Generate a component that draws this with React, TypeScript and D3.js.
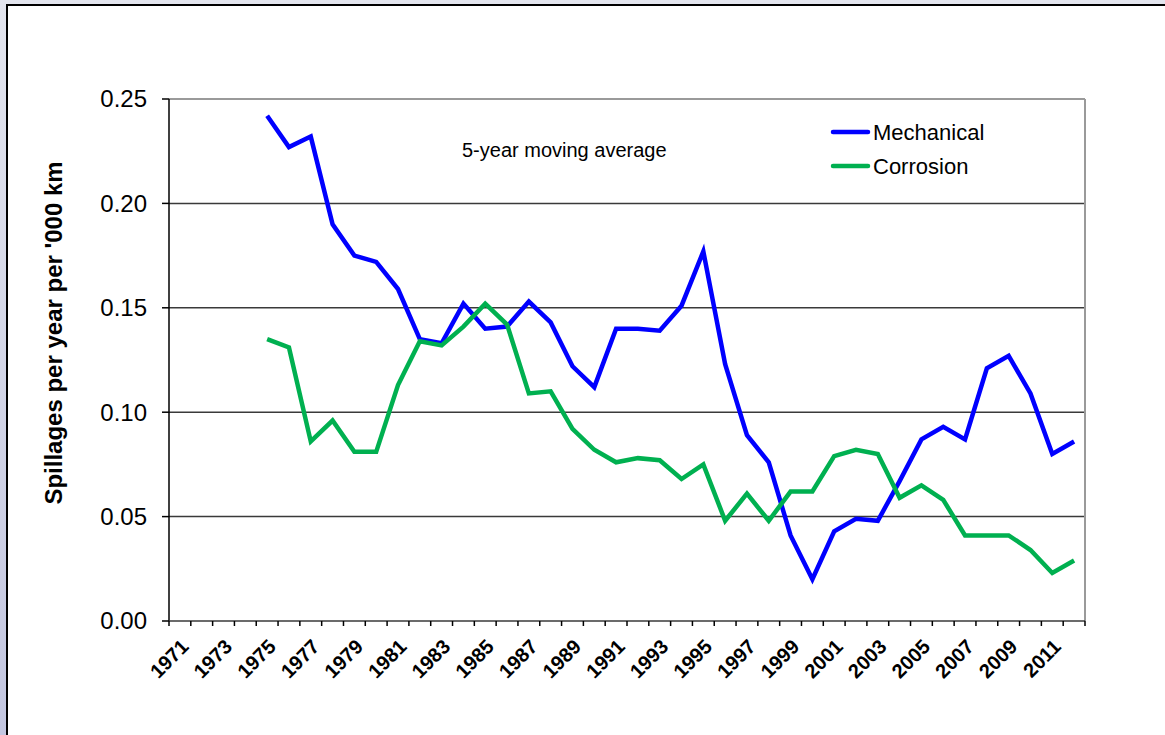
import React from 'react';
import * as d3 from 'd3';

const years = d3.range(1971, 2013);
const dataYears = d3.range(1975, 2013);

const mechanical = [
  0.242, 0.227, 0.232, 0.190, 0.175, 0.172, 0.159, 0.135, 0.133, 0.152,
  0.140, 0.141, 0.153, 0.143, 0.122, 0.112, 0.140, 0.140, 0.139, 0.151,
  0.177, 0.123, 0.089, 0.076, 0.041, 0.020, 0.043, 0.049, 0.048, 0.067,
  0.087, 0.093, 0.087, 0.121, 0.127, 0.109, 0.080, 0.086,
];

const corrosion = [
  0.135, 0.131, 0.086, 0.096, 0.081, 0.081, 0.113, 0.134, 0.132, 0.141,
  0.152, 0.142, 0.109, 0.110, 0.092, 0.082, 0.076, 0.078, 0.077, 0.068,
  0.075, 0.048, 0.061, 0.048, 0.062, 0.062, 0.079, 0.082, 0.080, 0.059,
  0.065, 0.058, 0.041, 0.041, 0.041, 0.034, 0.023, 0.029,
];

const yTicks = [0, 0.05, 0.1, 0.15, 0.2, 0.25];

const series = [
  { name: 'Mechanical', values: mechanical, color: '#0000ff' },
  { name: 'Corrosion', values: corrosion, color: '#00b050' },
];

const W = 1165;
const H = 735;
const left = 169;
const right = 1085;
const top = 99;
const bottom = 621;

export default function App() {
  const x = d3.scaleBand<number>().domain(years).range([left, right]).padding(0);
  const y = d3.scaleLinear().domain([0, 0.25]).range([bottom, top]);
  const cx = (yr: number) => (x(yr) ?? 0) + x.bandwidth() / 2;

  const line = d3.line<number>()
    .x((_, i) => cx(dataYears[i]))
    .y((d) => y(d));

  const boundaries = years.map((yr) => x(yr) ?? 0).concat([right]);
  const font = 'Liberation Sans, Arial, sans-serif';

  return (
    <svg width={W} height={H} style={{ position: 'absolute', left: 0, top: 0 }}>
      <defs>
        <linearGradient id="bg" x1="0" y1="0" x2="0" y2="1">
          <stop offset="0" stopColor="#e3e5ee" />
          <stop offset="1" stopColor="#c3c6e0" />
        </linearGradient>
      </defs>
      <rect x={0} y={0} width={W} height={H} fill="url(#bg)" />
      <rect x={7} y={5} width={W + 10} height={H + 10} fill="#fff" stroke="#000" strokeWidth={2} />

      {/* gridlines */}
      {yTicks.filter((t) => t > 0 && t < 0.25).map((t) => (
        <line key={t} x1={left} x2={right} y1={y(t)} y2={y(t)} stroke="#3a3a3a" strokeWidth={1.5} />
      ))}
      {/* plot area border top/right */}
      <line x1={left} x2={right} y1={top} y2={top} stroke="#9a9a9a" strokeWidth={2} />
      <line x1={right} x2={right} y1={top} y2={bottom} stroke="#9a9a9a" strokeWidth={2} />

      {/* y axis */}
      <line x1={left} x2={left} y1={top} y2={bottom} stroke="#000" strokeWidth={1.5} />
      {yTicks.map((t) => (
        <g key={t}>
          <line x1={left - 7} x2={left} y1={y(t)} y2={y(t)} stroke="#000" strokeWidth={1.5} />
          <text x={147} y={y(t)} dy="0.35em" textAnchor="end" fontFamily={font} fontSize={24} fill="#000">
            {t.toFixed(2)}
          </text>
        </g>
      ))}

      {/* x axis */}
      <line x1={left} x2={right} y1={bottom} y2={bottom} stroke="#3a3a3a" strokeWidth={1.5} />
      {boundaries.map((b, i) => (
        <line key={i} x1={b} x2={b} y1={bottom} y2={bottom + 5} stroke="#000" strokeWidth={1.5} />
      ))}
      {years.filter((yr) => (yr - 1971) % 2 === 0).map((yr) => (
        <text
          key={yr}
          transform={`translate(${cx(yr) + 5},${bottom + 22}) rotate(-45)`}
          dy="0.35em"
          textAnchor="end"
          fontFamily={font}
          fontSize={20}
          fontWeight="bold"
          fill="#000"
        >
          {yr}
        </text>
      ))}

      {/* y title */}
      <text
        transform={`translate(62,${(top + bottom) / 2 - 27}) rotate(-90)`}
        textAnchor="middle"
        fontFamily={font}
        fontSize={24}
        fontWeight="bold"
        fill="#000"
      >
        Spillages per year per '000 km
      </text>

      {/* series */}
      {series.map((s) => (
        <path key={s.name} d={line(s.values) ?? ''} fill="none" stroke={s.color} strokeWidth={4.5} strokeLinejoin="miter" />
      ))}

      {/* annotation */}
      <text x={462} y={157} fontFamily={font} fontSize={20} fill="#000">5-year moving average</text>

      {/* legend */}
      {series.map((s, i) => (
        <g key={s.name} transform={`translate(833,${132 + i * 34})`}>
          <line x1={0} x2={35} y1={0} y2={0} stroke={s.color} strokeWidth={4.5} strokeLinecap="round" />
          <text x={40} y={0} dy="0.35em" fontFamily={font} fontSize={22} fill="#000">{s.name}</text>
        </g>
      ))}
    </svg>
  );
}
